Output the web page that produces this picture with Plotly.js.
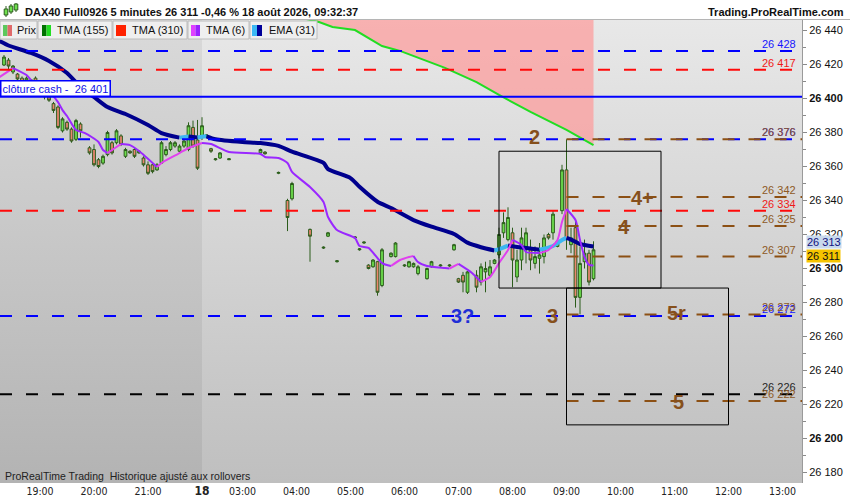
<!DOCTYPE html>
<html><head><meta charset="utf-8">
<script src="https://cdn.plot.ly/plotly-3.0.1.min.js"></script>
<style>html,body{margin:0;padding:0;background:#fff}#chart{width:850px;height:500px}</style>
</head><body><div id="chart"></div>
<script>
// ================= DATA =================
// times "HH:MM": >= 18:00 belong to 17 Aug session, others to 18 Aug session
const candleTimes = ["18:20","18:25","18:30","18:35","18:40","18:45","18:50","18:55","19:00","19:05","19:10","19:15","19:20","19:25","19:30","19:35","19:40","19:45","19:55","20:00","20:05","20:10","20:15","20:20","20:25","20:30","20:35","20:40","20:45","20:50","20:55","21:00","21:05","21:10","21:15","21:20","21:25","21:30","21:35","21:40","21:45","21:50","21:55","22:00",
"02:20","02:25","02:30","02:35","02:45","03:20","03:25","03:40","03:50","03:55","04:15","04:30","04:35","04:45","05:05","05:10","05:15","05:20","05:25","05:30","05:35","05:45","05:50","06:00","06:05","06:10","06:15","06:25","06:30","06:40","06:50","06:55","07:00","07:05","07:10","07:20","07:25","07:30","07:35","07:40","07:45","07:50","07:55","08:00","08:05","08:10","08:15","08:20","08:25","08:30","08:35","08:40","08:45","08:50","08:55","09:00","09:05","09:10","09:15","09:20","09:25","09:30"];
const candleOpen = [26419.7,26422.6,26415.6,26414.4,26412,26410,26411,26412,26405,26403,26401,26397,26395,26381,26386,26382,26376,26385,26371,26370,26364,26362,26367,26374,26374,26378,26366,26369,26370,26368,26365,26361,26361,26358,26362,26367,26370,26372,26369,26372,26370,26383,26375.6,26377,
26378,26370.5,26364,26365,26364,26368,26368.5,26356,26340,26341,26323,26312,26319,26304,26318,26311,26315,26302,26301,26304,26290,26307,26307,26301.5,26301,26301,26297,26294,26301,26301.5,26301.5,26311,26294,26296,26286,26296,26292,26298,26296,26303,26308,26321,26317,26321,26295,26305,26311,26311,26303,26306,26307,26320,26321,26313,26334,26358,26314,26324,26283,26304,26309,26294];
const candleHigh = [26425.6,26423.8,26419.7,26415.0,26413,26413,26411.5,26413,26406,26404,26402,26398,26396,26389,26387,26383,26388,26386,26372,26373,26365,26367,26381,26375,26382,26379,26371,26369.5,26371,26369.5,26366,26363,26362,26362,26375,26372,26375,26375,26373,26376,26386,26387,26387.4,26389,
26379,26371,26365,26368.5,26364.8,26370.5,26369,26357,26341,26351,26323.5,26313,26321.5,26305,26319,26312,26316,26302.5,26305.5,26304.5,26312,26309.5,26315.5,26302.5,26304.5,26303.5,26302,26300.5,26304.5,26302.5,26302.5,26314.5,26294.5,26298,26298.5,26299,26303,26304,26305,26305.5,26324,26333,26336,26324,26311,26324,26324,26317,26313,26315,26320,26321,26334,26316.5,26361,26376,26324,26329,26313,26317,26311,26316];
const candleLow = [26419.1,26416.8,26414.4,26410.9,26409,26409,26409.5,26409,26401,26399.5,26398,26391.5,26382,26380,26381,26374,26375,26377,26367,26360,26359,26361,26366,26367,26373,26372,26365,26367.5,26365,26367.5,26360,26355,26356,26357.5,26361.5,26366,26369,26371,26368,26371,26369,26371,26358,26375.6,
26377.5,26368,26363.5,26364.5,26363.8,26367.5,26367,26355.5,26322,26340,26304,26311.5,26318.5,26303.5,26317.5,26310.5,26314.5,26299.5,26300.5,26284,26289,26306.5,26306.5,26301,26300.5,26300.5,26296,26293.5,26300.5,26301,26301,26310.5,26291.5,26286,26285,26286,26290,26286,26295,26302.5,26306,26318,26316,26289,26292,26299,26303,26299,26300,26297,26303,26317,26317,26312.5,26332,26311,26309,26277,26273,26300,26290,26293];
const candleClose = [26424.4,26419.1,26419.1,26411.5,26410,26412,26410,26410,26402,26401,26399,26393,26383,26388,26382,26375,26387,26381,26368,26361,26360,26366,26380,26368,26381,26373,26370,26368,26366,26369,26361,26356,26357,26361,26374,26370,26374,26374,26372,26375,26384,26372,26359,26384,
26378.5,26369,26364.5,26368,26364.5,26370,26367.5,26356.5,26330,26350,26319,26312.5,26321,26304.5,26318.5,26311.5,26315.5,26300,26305,26286,26311,26309,26315,26302,26304,26303,26301,26300,26304,26302,26302,26314,26292,26292,26298,26289,26301,26300,26301,26305,26320,26327,26330,26305,26305,26318,26321,26305,26307,26308,26318,26318,26332,26316,26358,26317,26318,26283,26303,26309,26292,26311];

const emaTimes = ["18:15","18:25","18:50","19:10","19:30","19:45","20:00","20:15","20:35","21:00","21:15","21:35","21:45","21:50","21:55","22:00","02:20","02:30","03:00","03:20","03:40","03:55","04:30","04:35","05:00","05:10","05:30","05:45","06:10","06:30","06:55","07:10","07:25","07:40","07:45","07:55","08:05","08:20","08:30","08:45","08:55","09:00","09:05","09:15","09:30"];
const emaValues = [26433.8,26431.2,26426.8,26422.1,26415.0,26406.8,26400.9,26395.0,26390.9,26384.4,26379.7,26377.0,26377.6,26377.3,26377.1,26377.5,26377.8,26376.0,26374.4,26373.8,26372.1,26368.7,26362.1,26358.5,26353.2,26348.1,26339.3,26335.6,26328.5,26324.6,26320.3,26315.2,26312.5,26310.6,26311.4,26313.5,26312.6,26311.8,26311.0,26313.2,26316.8,26318.0,26317.0,26314.4,26312.9];

const tma6Times = ["18:15","18:30","18:45","18:55","19:10","19:20","19:25","19:30","19:40","19:50","20:05","20:10","20:15","20:25","20:30","20:40","20:50","21:10","21:15","21:35","21:45","22:00","02:25","02:45","03:20","03:25","03:40","03:50","03:55","04:15","04:30","04:35","04:45","05:05","05:10","05:20","05:35","05:45","05:55","06:05","06:10","06:15","06:25","06:45","06:50","07:00","07:15","07:25","07:35","07:45","07:55","08:00","08:10","08:15","08:30","08:40","08:50","08:55","09:00","09:10","09:15","09:20","09:25","09:30"];
const tma6Values = [26412.6,26417.9,26413.8,26407.9,26403.8,26397.9,26393.2,26389.7,26381.5,26379.7,26374.4,26369.7,26367.9,26371.5,26373.2,26372.6,26369.1,26359.7,26362.1,26367.9,26370.9,26373.8,26373.2,26368.5,26367.4,26365.6,26365.0,26362.1,26356.8,26347.9,26339.1,26330.3,26322.6,26317.9,26313.2,26312.1,26303.2,26301.5,26305.0,26306.8,26307.4,26303.8,26301.5,26300.3,26300.0,26302.7,26297.4,26292.1,26295.0,26303.2,26310.9,26316.8,26313.8,26309.7,26309.1,26310.9,26316.8,26327.4,26335.0,26328.5,26316.8,26306.8,26302.1,26301.8];

const tma155Times = ["04:05","04:25","04:40","05:05","05:35","05:55","06:45","07:20","07:45","08:20","09:00","09:30"];
const tma155Values = [26447.5,26445.0,26442.1,26440.3,26430.9,26428.0,26418.0,26409.7,26402.1,26392.1,26381.5,26372.6];

const fullLevelValues = [26428, 26417, 26376, 26334, 26272, 26226];
const fullLevelKinds  = ["blue","red","blue","red","blue","black"];
const cashClose = 26401;
const projStart = "09:00";
const projLevelValues = [26376, 26342, 26325, 26307, 26273, 26222];

const boxTimes  = [["07:45","10:45"], ["09:00","12:00"]];
const boxValues = [[26288.5, 26369], [26208, 26288.5]];

const waveTexts  = ["2","4+","4","3","5r","5","3?"];
const waveTimes  = ["08:24","10:24","10:04","08:44","11:02","11:04","07:04"];
const waveValues = [26377.4, 26341.5, 26324.4, 26272, 26273.8, 26221.5, 26272];
const waveKinds  = ["brown","brown","brown","brown","brown","brown","blue"];

const lastPrice = 26311;
const emaLast = 26313;
const titleText = "DAX40 Full0926 5 minutes 26 311 -0,46 % 18 août 2026, 09:32:37";
const siteText = "Trading.ProRealTime.com";
const footText = "ProRealTime Trading\u00a0 Historique ajusté aux rollovers";
const legendLabels = ["Prix","TMA (155)","TMA (310)","TMA (6)","EMA (31)"];

const xTickLabels = ["19:00","20:00","21:00","18","03:00","04:00","05:00","06:00","07:00","08:00","09:00","10:00","11:00","12:00","13:00"];
const xTickTimes  = ["19:00","20:00","21:00","02:15","03:00","04:00","05:00","06:00","07:00","08:00","09:00","10:00","11:00","12:00","13:00"];
const yTickValues = [26180,26200,26220,26240,26260,26280,26300,26320,26340,26360,26380,26400,26420,26440];

// ================= HELPERS / STYLE =================
const SANS = '"Liberation Sans", Arial, Helvetica, sans-serif';
const NARROW = '"Liberation Sans Narrow", "Arial Narrow", "DejaVu Sans Condensed", sans-serif';
function toX(t){ const p=t.split(':').map(Number); const h=p[0]+p[1]/60; return h>=18 ? h-19 : h+0.75; }
function fmt(v){ const s=String(Math.round(v)); return s.slice(0,s.length-3)+' '+s.slice(-3); }
const W=850, H=500, ML=0, MR=48, MT=20, MB=17;
const PW=W-ML-MR, PH=H-MT-MB;
const PX = px => (px-ML)/PW;
const PY = py => (H-MB-py)/PH;
const X_RANGE=[-0.741, 14.111];
const Y_RANGE=[26173.8, 26446.2];
const COL = {blue:'#0000ff', red:'#ff0a0a', brown:'#8c5014', black:'#000000'};
const LABCOL = {blue:'#1414ff', red:'#f01818', brown:'#8e5a26', black:'#262626'};
const DASH='12px,14px';

function slopeSegments(xs, ys, upColor, downColor, width){
  const out=[]; let i=0;
  while(i<xs.length-1){
    const up = ys[i+1]>ys[i]; let j=i+1;
    while(j<xs.length-1 && (ys[j+1]>ys[j])===up) j++;
    out.push({type:'scatter',mode:'lines',x:xs.slice(i,j+1),y:ys.slice(i,j+1),
      line:{color:up?upColor:downColor,width:width,shape:'spline',smoothing:0.6},hoverinfo:'skip',showlegend:false});
    i=j;
  }
  return out;
}

// background gradient image
function makeBg(){
  const split = Math.round(PW*(toX("02:15")-X_RANGE[0])/(X_RANGE[1]-X_RANGE[0]));
  const c=document.createElement('canvas'); c.width=PW; c.height=PH;
  const g=c.getContext('2d');
  const g1=g.createLinearGradient(0,0,0,PH); g1.addColorStop(0,'#dadada'); g1.addColorStop(1,'#b3b3b3');
  g.fillStyle=g1; g.fillRect(0,0,split,PH);
  const g2=g.createLinearGradient(0,0,0,PH); g2.addColorStop(0,'#e8e8e8'); g2.addColorStop(1,'#bfbfbf');
  g.fillStyle=g2; g.fillRect(split,0,PW-split,PH);
  return c.toDataURL('image/png');
}

// ================= TRACES =================
const traces=[];
const t155x = tma155Times.map(toX);
traces.push({type:'scatter',mode:'lines',x:t155x,y:t155x.map(()=>Y_RANGE[1]+30),line:{width:0,color:'rgba(0,0,0,0)'},hoverinfo:'skip',showlegend:false});
traces.push({type:'scatter',mode:'lines',x:t155x,y:tma155Values,fill:'tonexty',fillcolor:'rgba(255,150,150,0.68)',line:{color:'#22dd22',width:2},hoverinfo:'skip',showlegend:false});
traces.push({type:'candlestick',x:candleTimes.map(toX),open:candleOpen,high:candleHigh,low:candleLow,close:candleClose,
  increasing:{line:{color:'#2b5c1b',width:1},fillcolor:'#6ee04e'},
  decreasing:{line:{color:'#2b5c1b',width:1},fillcolor:'#ec8670'},
  whiskerwidth:0,hoverinfo:'skip',showlegend:false});
traces.push(...slopeSegments(emaTimes.map(toX), emaValues, '#3cb6f2', '#00008e', 4));
traces.push(...slopeSegments(tma6Times.map(toX), tma6Values, '#e040ee', '#9a28ff', 2));

// ================= SHAPES =================
const shapes=[];
fullLevelValues.forEach((v,i)=>shapes.push({type:'line',xref:'paper',x0:0,x1:1,yref:'y',y0:v,y1:v,line:{color:COL[fullLevelKinds[i]],width:2,dash:DASH}}));
shapes.push({type:'line',xref:'paper',x0:0,x1:1,yref:'y',y0:cashClose,y1:cashClose,line:{color:'#0000ff',width:2}});
projLevelValues.forEach(v=>shapes.push({type:'line',xref:'x',x0:toX(projStart),x1:X_RANGE[1],yref:'y',y0:v,y1:v,line:{color:COL.brown,width:2,dash:DASH}}));
boxTimes.forEach((b,i)=>shapes.push({type:'rect',xref:'x',yref:'y',x0:toX(b[0]),x1:toX(b[1]),y0:boxValues[i][0],y1:boxValues[i][1],line:{color:'#000',width:1},fillcolor:'rgba(0,0,0,0)'}));
// title bar border
shapes.push({type:'line',xref:'paper',yref:'paper',x0:PX(0),x1:PX(850),y0:PY(19.5),y1:PY(19.5),line:{color:'#b5b5b5',width:1}});
// title icon (mini candles)
[[6,9,15,6,17],[11,6,12,4,14],[16,4,10,3,12]].forEach(c=>{
  shapes.push({type:'line',xref:'paper',yref:'paper',x0:PX(c[0]),x1:PX(c[0]),y0:PY(c[3]),y1:PY(c[4]),line:{color:'#2b5c1b',width:1}});
  shapes.push({type:'rect',xref:'paper',yref:'paper',x0:PX(c[0]-1.8),x1:PX(c[0]+1.8),y0:PY(c[1]),y1:PY(c[2]),fillcolor:'#6ee04e',line:{color:'#2b5c1b',width:1}});
});
// legend boxes
const legBoxes=[[0,37],[38,112],[113,187],[188,249],[250,317]];
const legIcons=[[3,12,'#5cc85c','#e06a6a'],[42,51,'#007000','#22dd22'],[116,126,'#ff2200','#ff2200'],[191,200,'#e040ff','#9a22ff'],[252,262,'#3cb8f4','#000099']];
const legTextX=[15,55,130,204,267];
legBoxes.forEach(b=>shapes.push({type:'rect',xref:'paper',yref:'paper',x0:PX(b[0]),x1:PX(b[1]),y0:PY(39),y1:PY(21),fillcolor:'#efefef',line:{color:'#bcbcbc',width:1}}));
legIcons.forEach(ic=>{
  const mid=(ic[0]+ic[1])/2;
  shapes.push({type:'rect',xref:'paper',yref:'paper',x0:PX(ic[0]),x1:PX(mid),y0:PY(36),y1:PY(25),fillcolor:ic[2],line:{width:0}});
  shapes.push({type:'rect',xref:'paper',yref:'paper',x0:PX(mid),x1:PX(ic[1]),y0:PY(36),y1:PY(25),fillcolor:ic[3],line:{width:0}});
});

// ================= ANNOTATIONS =================
const ann=[];
ann.push({xref:'paper',yref:'paper',x:PX(23),y:PY(12),xanchor:'left',yanchor:'middle',showarrow:false,text:'<b>'+titleText+'</b>',font:{family:SANS,size:11,color:'#111'}});
ann.push({xref:'paper',yref:'paper',x:PX(846),y:PY(12),xanchor:'right',yanchor:'middle',showarrow:false,text:'<b>'+siteText+'</b>',font:{family:SANS,size:11,color:'#111'}});
legendLabels.forEach((t,i)=>ann.push({xref:'paper',yref:'paper',x:PX(legTextX[i]),y:PY(30.5),xanchor:'left',yanchor:'middle',showarrow:false,text:t,font:{family:SANS,size:11,color:'#111'}}));
ann.push({xref:'paper',yref:'paper',x:PX(3),y:PY(476),xanchor:'left',yanchor:'middle',showarrow:false,text:footText,font:{family:SANS,size:10.5,color:'#222'}});
ann.push({xref:'paper',yref:'y',x:0,y:cashClose,xanchor:'left',yanchor:'bottom',showarrow:false,text:'clôture cash -\u00a0 '+fmt(cashClose),
  font:{family:SANS,size:11,color:'#1010e8'},bgcolor:'#ffffff',bordercolor:'#0000ff',borderwidth:1.5,borderpad:1});
// right-side level labels
fullLevelValues.forEach((v,i)=>ann.push({xref:'paper',yref:'y',x:PX(798),y:v,xanchor:'right',yanchor:'bottom',yshift:-1,showarrow:false,text:fmt(v),font:{family:SANS,size:11,color:LABCOL[fullLevelKinds[i]]}}));
projLevelValues.forEach(v=>ann.push({xref:'paper',yref:'y',x:PX(798),y:v,xanchor:'right',yanchor:'bottom',yshift:-1,showarrow:false,text:fmt(v),font:{family:SANS,size:11,color:LABCOL.brown}}));
// wave labels
waveTexts.forEach((t,i)=>ann.push({xref:'x',yref:'y',x:toX(waveTimes[i]),y:waveValues[i],xanchor:'center',yanchor:'middle',showarrow:false,text:'<b>'+t+'</b>',
  font:{family:SANS,size:20,color:waveKinds[i]==='blue'?'#1f2fd6':'#86501c'}}));
// price boxes on axis
ann.push({xref:'paper',yref:'y',x:PX(806),y:emaLast,yshift:4,xanchor:'left',yanchor:'middle',showarrow:false,text:fmt(emaLast),font:{family:SANS,size:11,color:'#101080'},bgcolor:'#c9d9ec',borderpad:0});
ann.push({xref:'paper',yref:'y',x:PX(806),y:lastPrice,yshift:-6,xanchor:'left',yanchor:'middle',showarrow:false,text:fmt(lastPrice),font:{family:SANS,size:11,color:'#111'},bgcolor:'#f5c400',borderpad:0});

// ================= LAYOUT =================
const layout={
  width:W,height:H,margin:{l:ML,r:MR,t:MT,b:MB,pad:0},
  paper_bgcolor:'#ffffff',plot_bgcolor:'rgba(0,0,0,0)',showlegend:false,
  boxgap:0.22,boxgroupgap:0.22,
  xaxis:{range:X_RANGE,tickmode:'array',tickvals:xTickTimes.map(toX),
    ticktext:xTickLabels.map(l=>l==='18'?'<b><span style="font-size:12px">18</span></b>':l),
    ticks:'',showgrid:false,zeroline:false,showline:false,fixedrange:true,
    tickfont:{family:NARROW,size:10.5,color:'#222'},rangeslider:{visible:false}},
  yaxis:{side:'right',range:Y_RANGE,tickmode:'array',tickvals:yTickValues,
    ticktext:yTickValues.map(v=>v%100===0?'<b>'+fmt(v)+'</b>':fmt(v)),
    ticks:'outside',ticklen:4,tickcolor:'#8a8a8a',showline:true,linecolor:'#9a9a9a',linewidth:1,
    showgrid:false,zeroline:false,fixedrange:true,tickfont:{family:SANS,size:11,color:'#111'},
    minor:{tickmode:'linear',tick0:26170,dtick:10,ticks:'outside',ticklen:3,tickcolor:'#8a8a8a'}},
  shapes:shapes,annotations:ann,
  images:[{source:makeBg(),xref:'paper',yref:'paper',x:0,y:1,sizex:1,sizey:1,sizing:'stretch',xanchor:'left',yanchor:'top',layer:'below'}]
};
Plotly.newPlot('chart',traces,layout,{displayModeBar:false,staticPlot:true});
</script></body></html>
